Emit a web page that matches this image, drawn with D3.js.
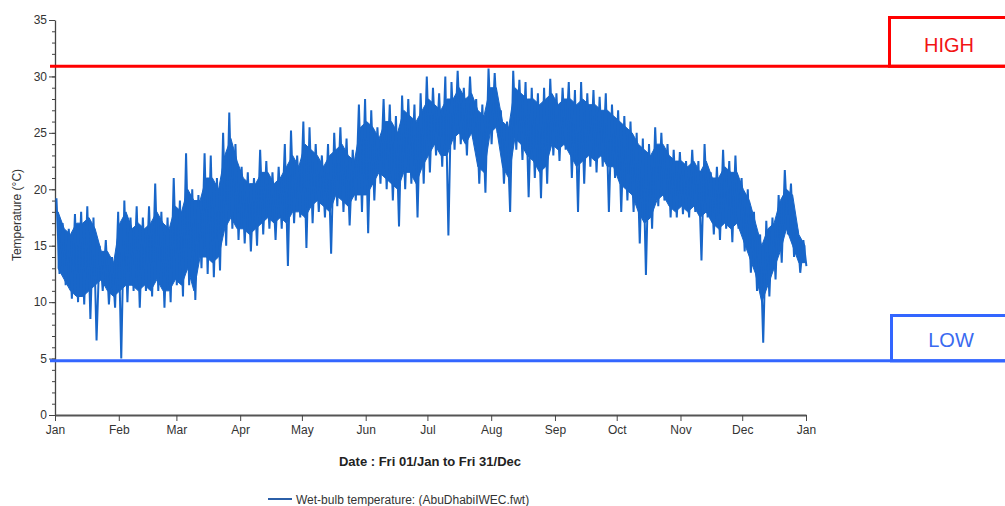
<!DOCTYPE html>
<html>
<head>
<meta charset="utf-8">
<script src="https://cdn.jsdelivr.net/npm/d3@7"></script>
<style>
  body { margin: 0; background: #fff; }
  svg { display: block; font-family: "Liberation Sans Narrow", "Liberation Sans", Arial, sans-serif; }
</style>
</head>
<body>
<svg id="chart" width="1005" height="506"></svg>
<script>
(function(){
    'use strict';

    // wet-bulb temperature in 3-day blocks
    // blockHigh / blockLow: the extreme swings (needles) of each block
    var blockHigh = [
        19.2, 17, 16.5, 17.8, 18, 18.5, 17.5, 15, 15.5, 14,
        18, 19, 17.5, 18.5, 17.5, 18.5, 20.5, 18, 17.5, 21,
        19, 23.2, 20, 19.5, 23.2, 23, 21, 25, 26.8, 24,
        22, 21.5, 21, 23.5, 22.5, 21.5, 22, 24, 25.2, 23,
        26, 25.5, 24, 23, 24, 25, 25.5, 24.5, 23.5, 27.5,
        28, 27, 25.5, 28, 27.5, 26.5, 28.3, 28, 27.5, 28.5,
        30, 29, 28.5, 30, 29.5, 30.5, 29, 30, 28, 27.5,
        30.7, 30.3, 27, 26, 30.5, 29.7, 29.5, 29, 28.5, 29,
        29.8, 28.5, 29, 29.5, 28.8, 29.5, 28.5, 28.8, 28.2, 28.5,
        27.5, 27, 26.5, 26, 25, 24.5, 24, 25.5, 25, 24,
        23.5, 23.3, 22.5, 23.5, 22.5, 24, 21.5, 22, 23.5, 22.5,
        23, 21, 20, 18, 16, 17.2, 17.5, 19.5, 21.7, 20.5,
        16.5, 15.5
    ];
    var blockLow = [
        12.5, 11.5, 10.3, 10, 9.8, 8.5, 6.6, 11, 9.8, 9.5,
        5, 10, 11, 9.5, 11, 10.5, 11, 9.5, 10, 11.5,
        10.5, 11.5, 10.2, 13, 12.5, 12.2, 12.8, 15, 16.5, 15.5,
        15.2, 14.5, 15, 16, 16.5, 15.5, 16.5, 13.2, 17, 17.5,
        14.8, 17, 18, 17.5, 14.3, 18.5, 18, 16.8, 19, 18,
        16.1, 19, 20.5, 20, 19, 16.7, 20, 20.5, 17.5, 20.5,
        21.5, 23, 22, 15.9, 23.5, 24, 23, 24.5, 20.5, 19.7,
        24, 25, 20.5, 18, 23.5, 22.6, 19.3, 21, 19.2, 20.5,
        23, 22.5, 23.5, 21, 18, 20.5, 22, 21.5, 22, 18,
        21, 18, 19, 18, 15.2, 12.4, 16.5, 18.5, 19, 17.5,
        17.5, 17.8, 17.5, 18, 13.7, 17.5, 16, 15.5, 16.5, 15.3,
        16.5, 14.5, 12.6, 11, 6.4, 10.5, 12, 13.5, 16, 14,
        12.6, 13.2
    ];
    // bandHigh / bandLow: the solid daily band of each block, without the needles
    var bandHigh = [
        18, 16.5, 16, 17, 17, 17.5, 16.5, 14.5, 14.5, 13.5,
        17, 18, 16.5, 17, 16.5, 17, 18, 17, 16.5, 18.5,
        18, 20, 19, 19, 21, 21, 20, 23, 24.5, 22.5,
        21, 20.5, 20.5, 21.5, 21.5, 20.5, 21, 22, 23, 22,
        24, 23.5, 23, 22, 23, 23.5, 24, 23, 22.5, 25.5,
        26, 25.5, 24.5, 26, 26, 25, 27, 26.5, 26, 27,
        28, 27.5, 27, 28, 28, 29, 28, 28.5, 27, 26.5,
        29, 29, 26, 25.5, 29, 28.5, 28, 28, 27.5, 28,
        28.5, 27.5, 28, 28, 27.5, 28, 27.5, 27.5, 27, 27,
        26.5, 26, 25.5, 25, 24, 23.5, 23, 24, 24, 23,
        22.5, 22.5, 22, 22.5, 21.5, 22.5, 21, 21, 22, 21.5,
        21.5, 20, 19, 17, 15, 16.5, 17, 19, 20, 19.5,
        16, 15
    ];
    var bandLow = [
        13, 12, 11, 10.5, 10.5, 11, 11.5, 12, 11, 10.5,
        11, 11.5, 11.5, 11, 11.5, 11, 12, 11, 11, 12,
        11.5, 13, 11, 14, 14, 13.5, 14, 16.5, 17.5, 16.5,
        16.5, 16, 16.5, 17, 17.5, 17, 17.5, 17, 18, 18,
        17.5, 18.5, 19, 18.5, 18, 19.5, 19, 18.5, 19.5, 19.5,
        19.5, 20.5, 21.5, 21, 20.5, 20, 21.5, 21.5, 20.5, 22,
        23, 24, 23, 23, 24.5, 25, 24, 25, 22, 21.5,
        25, 25.5, 22, 21, 24.5, 24, 23, 22.5, 21.5, 22,
        24, 23.5, 24, 23, 22, 22.5, 23, 22.5, 23, 22,
        22, 20.5, 20, 19.5, 18, 17, 17.5, 19, 19.5, 18.5,
        18, 18.5, 18, 18.5, 17.5, 18, 17, 16.5, 17, 16.5,
        17, 15.5, 14, 12.5, 10, 11.5, 13, 14.5, 16.5, 15,
        13.5, 13.5
    ];

    var monthTicks = ["Jan", "Feb", "Mar", "Apr", "May", "Jun", "Jul", "Aug", "Sep", "Oct", "Nov", "Dec", "Jan"];
    var yTicks = [0, 5, 10, 15, 20, 25, 30, 35];
    var highLimit = 30.9;
    var lowLimit = 4.8;

    var start = new Date(2021, 0, 1);
    var end = new Date(2022, 0, 1);
    var dayMs = 24 * 3600 * 1000;
    function dayDate(d) { return new Date(start.getTime() + d * dayMs); }

    // needles: zig-zag between the extreme swings of each block
    var series = [];
    blockHigh.forEach(function(h, i) {
        series.push({ date: dayDate(3 * i + 0.7), value: h });
        series.push({ date: dayDate(3 * i + 2.2), value: blockLow[i] });
    });
    var band = bandHigh.map(function(h, i) {
        return { date: dayDate(3 * i + 1.5), hi: h, lo: bandLow[i] };
    });

    var svg = d3.select("#chart");

    var x = d3.scaleTime().domain([start, end]).range([55, 806]);
    var y = d3.scaleLinear().domain([0, 35]).range([415, 20]);

    // minor y ticks
    svg.append("g")
        .attr("transform", "translate(55,0)")
        .call(d3.axisLeft(y).ticks(35).tickSize(3).tickFormat(""))
        .call(function(g) {
            g.select(".domain").remove();
            g.selectAll("line").attr("stroke", "#444");
        });

    // major y axis
    svg.append("g")
        .attr("transform", "translate(55,0)")
        .call(d3.axisLeft(y).tickValues(yTicks).tickSize(6).tickSizeOuter(0).tickPadding(2))
        .call(function(g) {
            g.select(".domain").attr("stroke", "#444").attr("stroke-width", 1.3);
            g.selectAll("line").attr("stroke", "#444");
            g.selectAll("text").attr("font-size", 12).attr("fill", "#333")
                .style("font-family", "inherit");
        });

    // x axis
    var monthDates = d3.timeMonth.range(start, d3.timeDay.offset(end, 1));
    svg.append("g")
        .attr("transform", "translate(0,415)")
        .call(d3.axisBottom(x).tickValues(monthDates).tickSize(6).tickSizeOuter(0).tickPadding(4)
            .tickFormat(function(d, i) { return monthTicks[i]; }))
        .call(function(g) {
            g.select(".domain").attr("stroke", "#555").attr("stroke-width", 2);
            g.selectAll("line").attr("stroke", "#444");
            g.selectAll("text").attr("font-size", 12).attr("fill", "#333")
                .style("font-family", "inherit");
        });

    // the series: solid band plus needles
    var area = d3.area()
        .x(function(d) { return x(d.date); })
        .y0(function(d) { return y(d.lo); })
        .y1(function(d) { return y(d.hi); });

    svg.append("path")
        .datum(band)
        .attr("d", area)
        .attr("fill", "#1866c9")
        .attr("stroke", "#1866c9")
        .attr("stroke-width", 1);

    var line = d3.line()
        .x(function(d) { return x(d.date); })
        .y(function(d) { return y(d.value); });

    svg.append("path")
        .datum(series)
        .attr("d", line)
        .attr("fill", "none")
        .attr("stroke", "#1866c9")
        .attr("stroke-width", 2)
        .attr("stroke-linejoin", "miter")
        .attr("stroke-miterlimit", 2);

    // limit lines and their boxes
    svg.append("line")
        .attr("x1", 50).attr("x2", 1005)
        .attr("y1", y(highLimit)).attr("y2", y(highLimit))
        .attr("stroke", "#ff0000").attr("stroke-width", 3);

    svg.append("rect")
        .attr("x", 889.5).attr("y", 17.5)
        .attr("width", 130).attr("height", y(highLimit) - 17.5)
        .attr("fill", "none").attr("stroke", "#ff0000").attr("stroke-width", 3);

    svg.append("text")
        .attr("x", 949).attr("y", 52)
        .attr("text-anchor", "middle")
        .style("font-family", "'Liberation Sans', Arial, sans-serif")
        .attr("font-size", 20)
        .attr("fill", "#f21414")
        .text("HIGH");

    svg.append("line")
        .attr("x1", 50).attr("x2", 1005)
        .attr("y1", y(lowLimit)).attr("y2", y(lowLimit))
        .attr("stroke", "#3366ff").attr("stroke-width", 3);

    svg.append("rect")
        .attr("x", 891.5).attr("y", 315.5)
        .attr("width", 130).attr("height", y(lowLimit) - 315.5)
        .attr("fill", "none").attr("stroke", "#3366ff").attr("stroke-width", 3);

    svg.append("text")
        .attr("x", 951).attr("y", 347)
        .attr("text-anchor", "middle")
        .style("font-family", "'Liberation Sans', Arial, sans-serif")
        .attr("font-size", 20)
        .attr("fill", "#3a6af0")
        .text("LOW");

    // titles
    svg.append("text")
        .attr("transform", "translate(21,215) rotate(-90)")
        .attr("text-anchor", "middle")
        .attr("font-size", 12)
        .attr("fill", "#333")
        .text("Temperature (°C)");

    svg.append("text")
        .attr("x", 430).attr("y", 466)
        .attr("text-anchor", "middle")
        .attr("font-size", 13)
        .attr("font-weight", "bold")
        .attr("fill", "#222")
        .text("Date : Fri 01/Jan to Fri 31/Dec");

    // legend
    svg.append("line")
        .attr("x1", 268).attr("x2", 292)
        .attr("y1", 499).attr("y2", 499)
        .attr("stroke", "#2b5fa8").attr("stroke-width", 2);

    svg.append("text")
        .attr("x", 296).attr("y", 504)
        .attr("font-size", 12)
        .attr("fill", "#333")
        .text("Wet-bulb temperature: (AbuDhabiIWEC.fwt)");
})();
</script>
</body>
</html>
